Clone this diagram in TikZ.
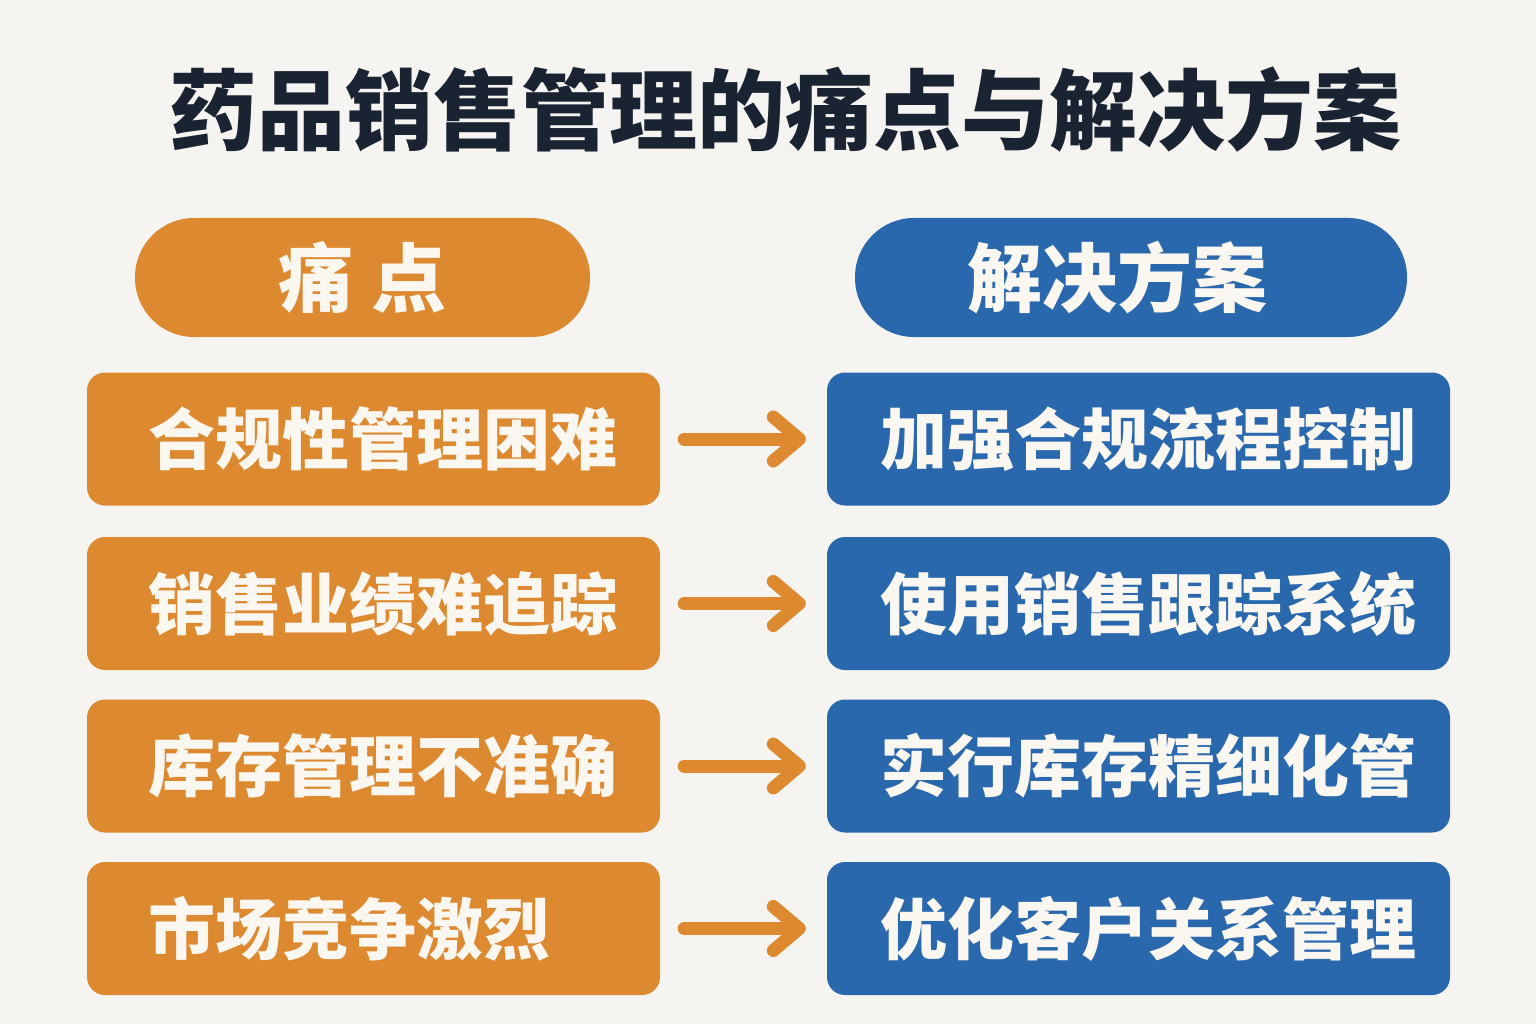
\documentclass[tikz,border=0pt]{standalone}
\usepackage{fontspec}
\newfontfamily\cjk{Noto Sans CJK SC}
\usetikzlibrary{arrows.meta}
\definecolor{pagebg}{RGB}{245,244,240}
\definecolor{painorange}{RGB}{221,137,48}
\definecolor{fixblue}{RGB}{41,104,173}
\definecolor{titleink}{RGB}{26,35,50}
\definecolor{boxtext}{RGB}{250,246,240}
\tikzset{
  pill/.style={rounded corners=59pt,minimum height=119pt,inner sep=0pt,
    text=boxtext,font=\cjk\bfseries\fontsize{75}{80}\selectfont},
  painbox/.style={fill=painorange,rounded corners=18pt,minimum height=133pt,
    text width=451pt,inner xsep=61pt,inner ysep=0pt,align=left,
    text=boxtext,font=\cjk\bfseries\fontsize{67}{72}\selectfont},
  fixbox/.style={fill=fixblue,rounded corners=18pt,minimum height=133pt,
    text width=517pt,inner xsep=53pt,inner ysep=0pt,align=left,
    text=boxtext,font=\cjk\bfseries\fontsize{67}{72}\selectfont},
  linkarrow/.style={draw=painorange,line width=13pt,line cap=round,
    -{Straight Barb[length=26pt,width=44pt,line cap=round,line join=round]},
    shorten <=24pt,shorten >=21pt}
}
\begin{document}
\begin{tikzpicture}[x=1pt,y=-1pt]
  \fill[pagebg] (0,0) rectangle (1536,1024);
  \useasboundingbox (0,0) rectangle (1536,1024);
  \node (title) at (785,110) [text=titleink,font=\cjk\bfseries\fontsize{88}{94}\selectfont]
    {药品销售管理的痛点与解决方案};
  \node[pill,fill=painorange,minimum width=455pt] (painhead) at (362.5,277.5) {痛 点};
  \node[pill,fill=fixblue,minimum width=552pt] (fixhead) at (1131,277.5) {\hspace*{-28pt}解决方案};
  \foreach \i/\y/\pain/\fix in {1/439/合规性管理困难/加强合规流程控制,
      2/603.5/销售业绩难追踪/使用销售跟踪系统,
      3/766/库存管理不准确/实行库存精细化管,
      4/928.5/市场竞争激烈/优化客户关系管理}{
    \node[painbox] (p\i) at (373.5,\y) {\pain};
    \node[fixbox] (s\i) at (1138.5,\y) {\fix};
    \draw[linkarrow] (p\i) -- (s\i);
  }
\end{tikzpicture}
\end{document}
